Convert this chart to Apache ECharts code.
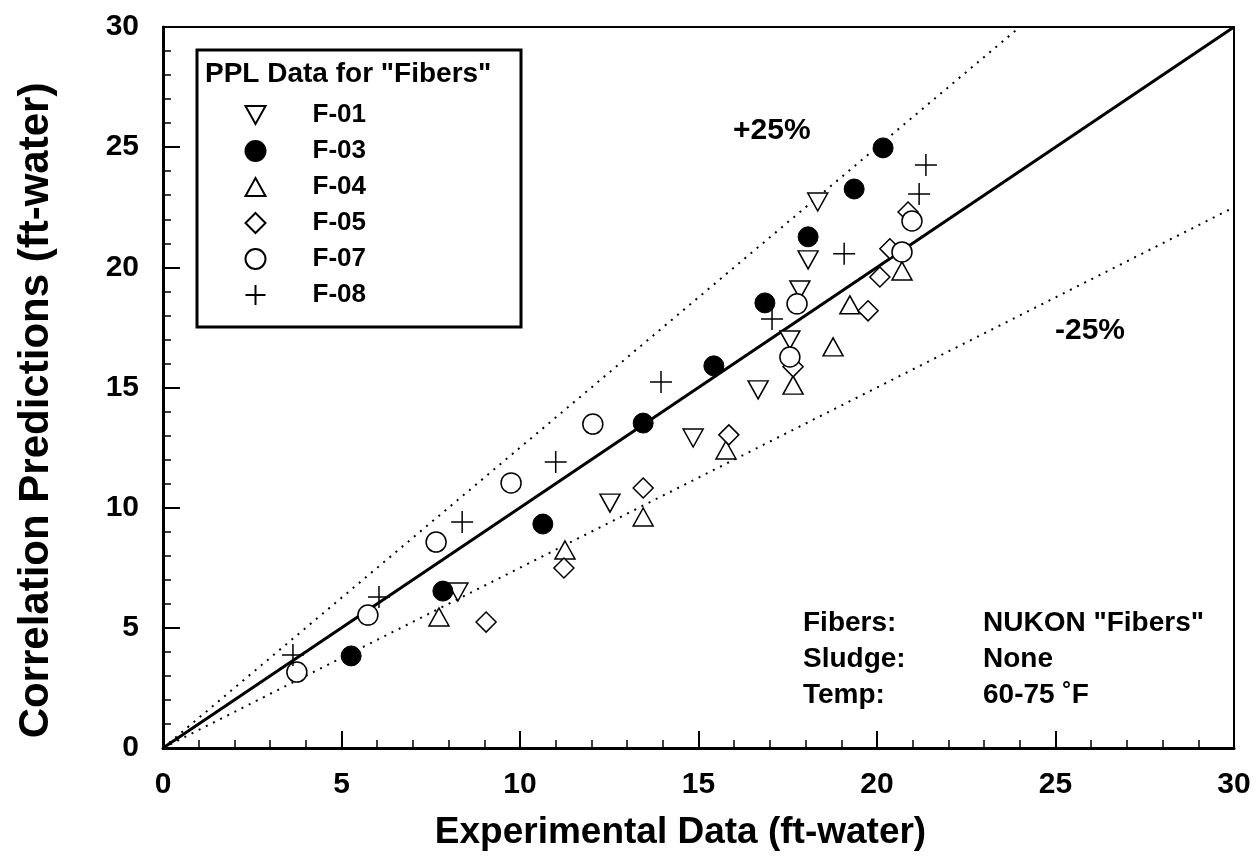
<!DOCTYPE html>
<html><head><meta charset="utf-8">
<script src="https://cdn.jsdelivr.net/npm/echarts@6/dist/echarts.min.js"></script>
<style>html,body{margin:0;padding:0;background:#fff}#c{width:1256px;height:860px}</style>
</head><body><div id="c"></div>
<script>
// ---- data (x = experimental, y = predicted; ft-water) ----
const seriesNames = ['F-01', 'F-03', 'F-04', 'F-05', 'F-07', 'F-08'];
const f01 = [[8.26,6.49],[12.52,10.19],[14.85,12.9],[16.67,14.9],[17.56,16.98],[17.84,19.06],[18.07,20.31],[18.34,22.72]];
const f03 = [[5.27,3.83],[7.84,6.53],[10.64,9.32],[13.45,13.52],[15.43,15.9],[16.86,18.52],[18.07,21.27],[19.36,23.26],[20.17,24.97]];
const f04 = [[7.73,5.45],[11.26,8.24],[13.45,9.61],[15.77,12.4],[17.65,15.1],[18.77,16.69],[19.24,18.44],[20.7,19.85]];
const f05 = [[9.05,5.24],[11.23,7.49],[13.45,10.82],[15.85,13.03],[17.65,15.86],[19.75,18.19],[20.08,19.6],[20.36,20.77],[20.87,22.3]];
const f07 = [[3.75,3.16],[5.74,5.53],[7.65,8.57],[9.75,11.03],[12.04,13.48],[17.56,16.27],[17.76,18.48],[20.7,20.64],[20.98,21.93]];
const f08 = [[3.64,3.87],[6.05,6.28],[8.38,9.4],[11.0,11.9],[13.95,15.23],[17.06,17.85],[19.08,20.56],[21.18,23.05],[21.37,24.26]];
const perfectLine = [[0,0],[30,30]];
const plus25Line = [[0,0],[24,30]];
const minus25Line = [[0,0],[30,22.5]];
const axisMin = 0, axisMax = 30, axisStep = 5;
const legendTitle = 'PPL Data for "Fibers"';
const noteLabels = ['Fibers:', 'Sludge:', 'Temp:'];
const noteValues = ['NUKON "Fibers"', 'None', '60-75 \u02DAF'];
const bandLabels = ['+25%', '-25%'];

const FONT = '"Liberation Sans", Arial, Helvetica, sans-serif';
const chart = echarts.init(document.getElementById('c'), null, {renderer: 'canvas'});

const openStyle = {color: '#fff', borderColor: '#000', borderWidth: 1.5, opacity: 1};
function sc(name, data, symbol, size, style) {
  return {
    name, type: 'scatter', data, symbol, symbolSize: size,
    itemStyle: style, z: 5,
    emphasis: {disabled: true}
  };
}
function ln(data, type, width) {
  return {type: 'line', data, symbol: 'none', silent: true, z: 3,
    lineStyle: {color: '#000', width, type}, emphasis: {disabled: true}};
}

const axisCommon = {
  type: 'value', min: axisMin, max: axisMax, interval: axisStep,
  axisLine: {show: true, lineStyle: {color: '#000', width: 3}},
  axisTick: {show: true, inside: true, length: 17, lineStyle: {color: '#000', width: 2}},
  minorTick: {show: true, splitNumber: 5, length: 8, lineStyle: {color: '#000', width: 1.5}},
  splitLine: {show: false},
  axisLabel: {color: '#000', fontFamily: FONT, fontWeight: 'bold', fontSize: 30},
  nameLocation: 'middle',
  nameTextStyle: {color: '#000', fontFamily: FONT, fontWeight: 'bold'}
};

const noteGraphics = [];
noteLabels.forEach((t, i) => {
  noteGraphics.push({type: 'text', left: 803, top: 624 + i * 36 - 15,
    style: {text: t, font: 'bold 28px ' + FONT, fill: '#000'}});
  noteGraphics.push({type: 'text', left: 983, top: 624 + i * 36 - 15,
    style: {text: noteValues[i], font: 'bold 28px ' + FONT, fill: '#000'}});
});

chart.setOption({
  animation: false,
  backgroundColor: '#fff',
  grid: {left: 163, right: 22, top: 27, bottom: 112, show: true,
    borderColor: '#000', borderWidth: 2, backgroundColor: 'transparent'},
  xAxis: Object.assign({}, axisCommon, {
    name: 'Experimental Data (ft-water)', nameGap: 66,
    nameTextStyle: Object.assign({}, axisCommon.nameTextStyle, {fontSize: 37, padding: [0, 36, 0, 0]}),
    axisLabel: Object.assign({}, axisCommon.axisLabel, {margin: 22})
  }),
  yAxis: Object.assign({}, axisCommon, {
    name: 'Correlation Predictions (ft-water)', nameGap: 106,
    nameTextStyle: Object.assign({}, axisCommon.nameTextStyle, {fontSize: 42, padding: [0, 46, 0, 0]}),
    axisLabel: Object.assign({}, axisCommon.axisLabel, {margin: 24})
  }),
  legend: {
    show: true, orient: 'vertical', left: 243, top: 101, padding: 0,
    itemWidth: 20, itemHeight: 20, itemGap: 8, selectedMode: false,
    data: seriesNames,
    textStyle: {color: '#000', fontFamily: FONT, fontWeight: 'bold', fontSize: 26,
      lineHeight: 28, padding: [0, 0, 0, 42]}
  },
  graphic: [
    {type: 'rect', z: 0, shape: {x: 197, y: 50, width: 324, height: 277},
      style: {fill: '#fff', stroke: '#000', lineWidth: 3}},
    {type: 'text', z: 10, left: 205, top: 60,
      style: {text: legendTitle, font: 'bold 28px ' + FONT, fill: '#000'}},
    {type: 'text', z: 10, left: 733, top: 116,
      style: {text: bandLabels[0], font: 'bold 30px ' + FONT, fill: '#000'}},
    {type: 'text', z: 10, left: 1055, top: 316,
      style: {text: bandLabels[1], font: 'bold 30px ' + FONT, fill: '#000'}}
  ].concat(noteGraphics),
  series: [
    ln(perfectLine, 'solid', 3),
    ln(plus25Line, [2, 6], 2),
    ln(minus25Line, [2, 6], 2),
    sc('F-01', f01, 'path://M-10,-9L10,-9L0,9Z', [20, 18], openStyle),
    sc('F-03', f03, 'circle', 20, {color: '#000', borderColor: '#000', borderWidth: 1, opacity: 1}),
    sc('F-04', f04, 'path://M0,-9L10,9L-10,9Z', [20, 18], openStyle),
    sc('F-05', f05, 'path://M0,-10L10,0L0,10L-10,0Z', 20, openStyle),
    sc('F-07', f07, 'circle', 20, openStyle),
    sc('F-08', f08, 'path://M-10,0L10,0M0,-10L0,10', 22, {color: 'none', borderColor: '#000', borderWidth: 1.5, opacity: 1})
  ]
});
</script></body></html>
